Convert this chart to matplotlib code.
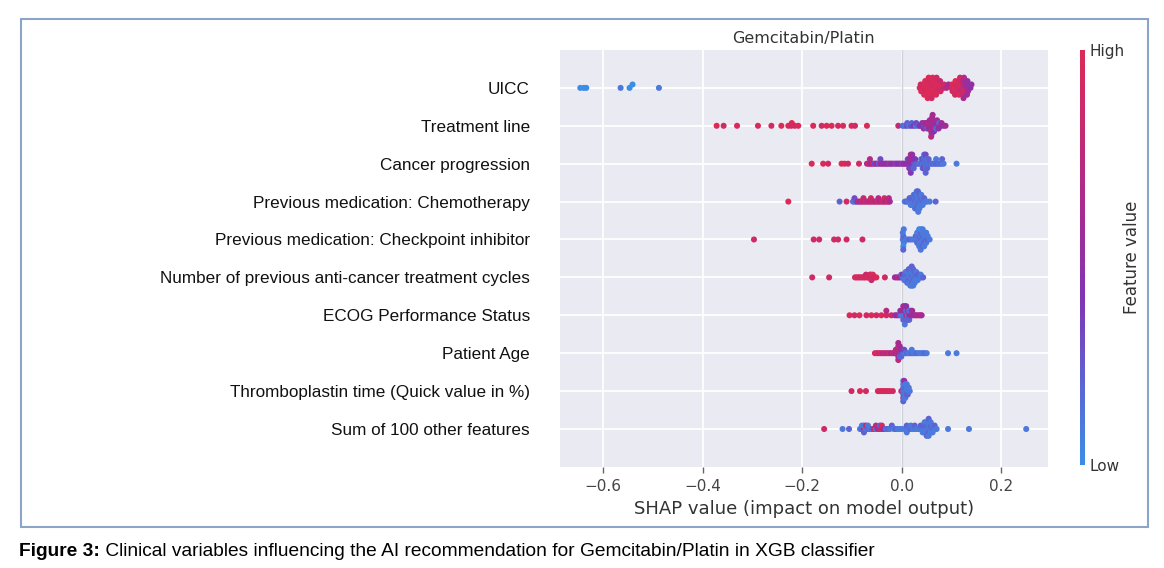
import numpy as np
import matplotlib
matplotlib.use('Agg')
import matplotlib.pyplot as plt
from matplotlib.colors import LinearSegmentedColormap, Normalize
from matplotlib.cm import ScalarMappable
from matplotlib.patches import Rectangle

features = [
    'UICC',
    'Treatment line',
    'Cancer progression',
    'Previous medication: Chemotherapy',
    'Previous medication: Checkpoint inhibitor',
    'Number of previous anti-cancer treatment cycles',
    'ECOG Performance Status',
    'Patient Age',
    'Thromboplastin time (Quick value in %)',
    'Sum of 100 other features',
]

# SHAP values, one list per row; *_feat is the feature
# value on a 0 (low) .. 10 (high) scale
uicc_shap = [-0.646, -0.639, -0.634, -0.565, -0.547, -0.541, -0.488,
             0.036, 0.038, 0.039,
             0.044, 0.045, 0.046, 0.047, 0.045,
             0.052, 0.053, 0.054, 0.055, 0.053, 0.054, 0.052,
             0.060, 0.061, 0.062, 0.063, 0.061, 0.062, 0.060,
             0.068, 0.069, 0.070, 0.068, 0.069, 0.070,
             0.076, 0.077, 0.078, 0.077,
             0.084, 0.085,
             0.090, 0.094,
             0.100, 0.101, 0.102,
             0.107, 0.108, 0.109, 0.108, 0.107,
             0.115, 0.116, 0.117, 0.116, 0.115, 0.117,
             0.123, 0.124, 0.125, 0.124, 0.123, 0.125, 0.124,
             0.131, 0.132, 0.133, 0.132, 0.131,
             0.138, 0.140]
uicc_feat = [0, 0, 0, 1, 0, 0, 1,
             10, 9, 10,
             10, 10, 9, 10, 10,
             10, 10, 10, 9, 10, 10, 10,
             10, 9, 10, 10, 10, 10, 9,
             10, 10, 9, 10, 10, 9,
             9, 10, 9, 8,
             8, 9,
             7, 6,
             9, 10, 9,
             10, 9, 10, 10, 9,
             9, 10, 8, 9, 10, 9,
             8, 7, 9, 6, 8, 7, 6,
             6, 5, 6, 5, 6,
             5, 5]

treat_shap = [-0.372, -0.358, -0.331, -0.289, -0.262, -0.242, -0.228, -0.222, -0.221, -0.215, -0.208,
              -0.178, -0.161, -0.151, -0.141, -0.128, -0.118, -0.101, -0.094, -0.070, -0.007,
              0.002, 0.006, 0.010, 0.011, 0.015, 0.019, 0.020, 0.024, 0.028, 0.029, 0.033, 0.036,
              0.040, 0.041,
              0.044, 0.045, 0.046,
              0.049, 0.050, 0.051,
              0.054, 0.055, 0.054, 0.056,
              0.059, 0.060, 0.061, 0.060, 0.059, 0.061, 0.060, 0.062, 0.059,
              0.064, 0.065, 0.066, 0.064, 0.065,
              0.069, 0.070, 0.069, 0.071,
              0.074, 0.075, 0.074,
              0.079, 0.080,
              0.084, 0.088]
treat_feat = [10, 9, 10, 10, 9, 10, 10, 9, 10, 9, 10,
              10, 9, 10, 10, 9, 10, 10, 9, 10, 8,
              2, 1, 3, 2, 1, 3, 2, 4, 1, 3, 2, 4,
              4, 5,
              6, 3, 5,
              6, 6, 2,
              6, 7, 5, 6,
              6, 7, 5, 6, 7, 6, 5, 6, 7,
              6, 5, 7, 6, 4,
              5, 6, 2, 6,
              6, 2, 5,
              5, 6,
              5, 6]

prog_shap = [-0.181, -0.158, -0.148, -0.121, -0.115, -0.108, -0.086,
             -0.070, -0.067, -0.064, -0.064, -0.061, -0.058, -0.055, -0.052, -0.049, -0.046,
             -0.043, -0.043, -0.040, -0.037, -0.034, -0.031, -0.028, -0.025, -0.022, -0.019,
             -0.015, -0.012, -0.009, -0.006, -0.003, 0.000, 0.003, 0.006, 0.009,
             0.012, 0.012, 0.015, 0.015, 0.015, 0.018, 0.018, 0.018, 0.018, 0.018,
             0.021, 0.021, 0.021, 0.021, 0.024, 0.024, 0.024, 0.027, 0.027, 0.030,
             0.033, 0.036, 0.039, 0.039, 0.042, 0.042, 0.042, 0.045, 0.045, 0.045, 0.045,
             0.048, 0.048, 0.048, 0.048, 0.048, 0.051, 0.051, 0.051, 0.054, 0.054, 0.057,
             0.060, 0.063, 0.066, 0.069, 0.069, 0.072, 0.075, 0.078, 0.081, 0.081, 0.084, 0.110]
prog_feat = [10, 10, 9, 10, 10, 9, 9,
             6, 9, 5, 7, 6, 8, 3, 6, 5, 2,
             6, 3, 5, 6, 4, 6, 5, 3, 6, 5,
             5, 3, 6, 4, 5, 3, 6, 5, 4,
             5, 3, 6, 4, 5, 5, 6, 3, 7, 4,
             4, 6, 3, 5, 3, 5, 2, 2, 4, 2,
             2, 1, 2, 1, 1, 3, 2, 2, 1, 3, 2,
             1, 2, 1, 3, 2, 2, 1, 2, 1, 2, 2,
             1, 2, 1, 2, 1, 2, 1, 2, 1, 2, 1, 1]

chemo_shap = [-0.228, -0.125, -0.111,
              -0.098, -0.095, -0.095, -0.092, -0.089, -0.086, -0.083, -0.080,
              -0.077, -0.077, -0.074, -0.071, -0.068, -0.065, -0.062, -0.062,
              -0.059, -0.056, -0.053, -0.050, -0.047, -0.047, -0.044, -0.041,
              -0.038, -0.035, -0.035, -0.032, -0.029, -0.026, -0.026, -0.024,
              0.006, 0.009, 0.012, 0.015, 0.0155, 0.018, 0.0175, 0.018,
              0.021, 0.0205, 0.021, 0.024, 0.0235, 0.024, 0.024,
              0.027, 0.0265, 0.027, 0.027, 0.0265,
              0.030, 0.0295, 0.030, 0.030, 0.0295, 0.030,
              0.033, 0.0325, 0.033, 0.0335, 0.033, 0.0325, 0.033,
              0.036, 0.0355, 0.036, 0.036, 0.0355,
              0.039, 0.0385, 0.039, 0.039, 0.042, 0.0415, 0.042,
              0.045, 0.045, 0.048, 0.051, 0.056, 0.068]
chemo_feat = [10, 2, 9,
              2, 1, 3, 2, 6, 8, 5, 9,
              6, 8, 9, 7, 9, 6, 8, 9,
              7, 9, 6, 8, 9, 7, 6, 8,
              9, 7, 9, 6, 8, 9, 7, 6,
              1, 2, 1, 1, 2, 1, 2, 1,
              1, 2, 1, 1, 2, 1, 1,
              2, 1, 1, 2, 1,
              1, 2, 1, 1, 2, 1,
              1, 1, 2, 1, 1, 2, 1,
              2, 1, 1, 2, 1,
              1, 2, 1, 1, 2, 1, 1,
              1, 2, 1, 1, 1, 2]

check_shap = [-0.297, -0.177, -0.166, -0.136, -0.128, -0.111, -0.079,
              0.002, 0.003, 0.004, 0.002, 0.003, 0.004, 0.003,
              0.008, 0.012, 0.016, 0.020, 0.024,
              0.028, 0.028, 0.031, 0.031, 0.031, 0.031,
              0.035, 0.035, 0.035, 0.035, 0.035, 0.035,
              0.038, 0.038, 0.038, 0.038, 0.038, 0.038, 0.038,
              0.042, 0.042, 0.042, 0.042, 0.042, 0.042,
              0.045, 0.045, 0.045, 0.045, 0.045,
              0.049, 0.049, 0.049, 0.049, 0.052, 0.052, 0.056]
check_feat = [9, 9, 9, 9, 9, 9, 9,
              1, 2, 1, 1, 0, 1, 2,
              1, 1, 2, 1, 1,
              1, 2, 1, 1, 2, 1,
              1, 2, 1, 0, 1, 1,
              2, 1, 1, 2, 1, 0, 1,
              1, 2, 1, 1, 2, 1,
              1, 1, 2, 1, 1,
              2, 1, 1, 1, 2, 1, 1]

cycles_shap = [-0.180, -0.146,
               -0.094, -0.091, -0.088, -0.085, -0.082, -0.079, -0.076, -0.074,
               -0.072, -0.070, -0.068, -0.066, -0.064, -0.064, -0.062, -0.062,
               -0.061, -0.060, -0.058, -0.058, -0.056, -0.054, -0.051, -0.034,
               -0.014, -0.010, -0.007, -0.004, -0.001, -0.001,
               0.002, 0.002, 0.005, 0.005, 0.005, 0.008, 0.008, 0.008, 0.008,
               0.011, 0.011, 0.011, 0.011, 0.011, 0.014, 0.014, 0.014, 0.014, 0.014, 0.014,
               0.017, 0.017, 0.017, 0.017, 0.017, 0.017, 0.017,
               0.020, 0.020, 0.020, 0.020, 0.020, 0.020, 0.020, 0.020,
               0.023, 0.023, 0.023, 0.023, 0.023, 0.023, 0.023,
               0.026, 0.026, 0.026, 0.026, 0.026, 0.029, 0.029, 0.029, 0.029,
               0.032, 0.032, 0.032, 0.035, 0.035, 0.038, 0.038, 0.041, 0.043]
cycles_feat = [9, 9,
               9, 10, 9, 10, 8, 10, 9, 9,
               8, 10, 9, 10, 8, 9, 10, 9,
               8, 10, 9, 10, 9, 8, 10, 9,
               6, 5, 7, 6, 5, 2,
               1, 5, 1, 2, 1, 1, 2, 1, 1,
               1, 2, 1, 1, 2, 1, 1, 2, 1, 1, 2,
               1, 1, 2, 1, 1, 2, 1,
               1, 2, 1, 1, 2, 1, 1, 2,
               1, 1, 2, 1, 1, 2, 1,
               2, 1, 1, 2, 1, 1, 2, 1, 1,
               1, 2, 1, 1, 2, 1, 1, 1, 2]

ecog_shap = [-0.105, -0.095, -0.085, -0.071, -0.061, -0.051, -0.041, -0.031, -0.031, -0.021,
             -0.014, -0.010, -0.006, -0.003, -0.003, 0.000, 0.000,
             0.003, 0.003, 0.003, 0.003, 0.006, 0.006, 0.006, 0.006, 0.006,
             0.009, 0.009, 0.009, 0.009, 0.012, 0.012, 0.012, 0.015, 0.015, 0.015,
             0.018, 0.018, 0.021, 0.021, 0.025, 0.028, 0.031, 0.035, 0.038, 0.040]
ecog_feat = [10, 9, 10, 9, 10, 9, 10, 9, 7, 9,
             7, 4, 6, 2, 5, 1, 6,
             1, 6, 2, 5, 1, 5, 2, 6, 1,
             6, 1, 2, 5, 1, 6, 2, 5, 1, 2,
             6, 2, 5, 6, 5, 6, 7, 6, 7, 6]

age_shap = [-0.054, -0.050, -0.046, -0.042, -0.038, -0.034, -0.030, -0.026, -0.022, -0.018,
            -0.015, -0.012, -0.012, -0.009, -0.009, -0.007, -0.007, -0.007, -0.007, -0.007, -0.007,
            -0.004, -0.004, -0.004, -0.004, -0.001, -0.001, -0.001,
            0.002, 0.002, 0.005, 0.005, 0.008, 0.011, 0.014, 0.017, 0.020, 0.020,
            0.023, 0.026, 0.030, 0.034, 0.038, 0.042, 0.046, 0.050, 0.093, 0.110]
age_feat = [9, 10, 8, 9, 7, 8, 7, 9, 6, 8,
            7, 6, 8, 7, 6, 8, 7, 6, 9, 7, 6,
            5, 7, 2, 6, 3, 5, 2,
            2, 5, 1, 3, 1, 2, 1, 1, 2, 1,
            1, 1, 2, 1, 1, 1, 2, 1, 1, 1]

thromb_shap = [-0.101, -0.084, -0.072, -0.048, -0.044, -0.040, -0.036, -0.032, -0.028, -0.024, -0.018, -0.001,
               0.003, 0.003, 0.003, 0.003, 0.003, 0.003, 0.003,
               0.005, 0.005, 0.005, 0.005, 0.005, 0.005,
               0.007, 0.007, 0.007, 0.007, 0.007,
               0.010, 0.010, 0.010, 0.010, 0.012, 0.012, 0.012, 0.014, 0.014, 0.016]
thromb_feat = [9, 10, 9, 10, 9, 10, 9, 10, 9, 10, 9, 9,
               1, 2, 1, 1, 6, 1, 2,
               1, 1, 2, 1, 1, 5,
               1, 2, 1, 1, 1,
               1, 1, 2, 1, 1, 1, 2, 1, 1, 1]

other_shap = [-0.156, -0.119, -0.106,
              -0.084, -0.080, -0.080, -0.076, -0.076, -0.076, -0.072, -0.072, -0.068, -0.068, -0.064, -0.060,
              -0.056, -0.052, -0.052, -0.048, -0.044, -0.044, -0.040, -0.040, -0.036, -0.032, -0.028, -0.024, -0.020,
              -0.016, -0.012, -0.008, -0.004, 0.000,
              0.006, 0.010, 0.010, 0.010, 0.014, 0.018, 0.018, 0.022, 0.026, 0.026, 0.030,
              0.034, 0.038, 0.038, 0.042, 0.042, 0.042, 0.046, 0.046, 0.046, 0.046,
              0.050, 0.050, 0.050, 0.050, 0.050, 0.054, 0.054, 0.054, 0.054, 0.054, 0.054,
              0.058, 0.058, 0.058, 0.058, 0.062, 0.062, 0.062, 0.066, 0.066, 0.070,
              0.093, 0.135, 0.250]
other_feat = [9, 1, 2,
              1, 2, 1, 9, 1, 2, 1, 8, 2, 1, 1, 2,
              9, 1, 8, 6, 9, 2, 8, 10, 5, 1, 2, 1, 2,
              1, 2, 1, 1, 1,
              1, 1, 2, 1, 1, 2, 1, 1, 1, 2, 1,
              1, 1, 2, 1, 2, 1, 1, 2, 1, 1,
              1, 2, 1, 1, 2, 1, 1, 2, 1, 1, 2,
              1, 2, 1, 1, 2, 1, 1, 1, 2, 1,
              1, 1, 1]

rows = [
    (uicc_shap, uicc_feat),
    (treat_shap, treat_feat),
    (prog_shap, prog_feat),
    (chemo_shap, chemo_feat),
    (check_shap, check_feat),
    (cycles_shap, cycles_feat),
    (ecog_shap, ecog_feat),
    (age_shap, age_feat),
    (thromb_shap, thromb_feat),
    (other_shap, other_feat),
]

x_ticks = [-0.6, -0.4, -0.2, 0.0, 0.2]
x_lim = (-0.687, 0.293)

cmap = LinearSegmentedColormap.from_list(
    'red_blue', ['#3b8ee6', '#5d63d2', '#8035b5', '#a52b93', '#c42a72', '#db2a57'])
norm = Normalize(vmin=0, vmax=10)


def swarm_offsets(vals, nbins=100, row_height=0.4):
    # same binning as shap's beeswarm, without the random tie break
    vals = np.asarray(vals, dtype=float)
    quant = np.round(nbins * (vals - vals.min()) / (vals.max() - vals.min() + 1e-8))
    ys = np.zeros(len(vals))
    layer, last = 0, None
    for i in np.argsort(quant, kind='stable'):
        if quant[i] != last:
            layer = 0
        ys[i] = np.ceil(layer / 2) * ((layer % 2) * 2 - 1)
        layer += 1
        last = quant[i]
    ys *= 0.9 * (row_height / np.max(ys + 1))
    return ys


fig = plt.figure(figsize=(11.64, 5.68), dpi=100)
ax = fig.add_axes([0.481, 0.178, 0.419, 0.734])
ax.set_facecolor('#eaeaf2')
for s in ax.spines.values():
    s.set_visible(False)

n = len(features)
for i, (sv, fv) in enumerate(rows):
    y = n - 1 - i
    ax.scatter(sv, y + swarm_offsets(sv), c=fv, cmap=cmap, norm=norm,
               s=19, linewidths=0, zorder=3)

ax.axvline(0, color='#d2d2da', lw=1.0, zorder=0.7)
ax.set_axisbelow(True)
ax.grid(True, color='white', lw=1.3)
ax.set_xlim(*x_lim)
ax.set_ylim(-1, n)
ax.set_xticks(x_ticks)
ax.set_xticklabels(['\u22120.6', '\u22120.4', '\u22120.2', '0.0', '0.2'])
ax.set_yticks(range(n))
ax.set_yticklabels(features[::-1], fontfamily='Liberation Sans', fontsize=12.3,
                   color='#111111', va='center_baseline')
ax.tick_params(axis='y', length=0, pad=21.6)
ax.tick_params(axis='x', length=4.5, width=1, color='#666666', labelsize=11,
               labelcolor='#444444', pad=4.5)
ax.set_xlabel('SHAP value (impact on model output)', fontsize=13, color='#333333', labelpad=4)
ax.set_title('Gemcitabin/Platin', fontsize=11.5, color='#333333', pad=5)

cax = fig.add_axes([0.9278, 0.1813, 0.0043, 0.731])
cb = fig.colorbar(ScalarMappable(norm=norm, cmap=cmap), cax=cax, ticks=[0, 10])
cb.set_ticklabels(['Low', 'High'])
cb.outline.set_visible(False)
cax.tick_params(length=0, labelsize=11, labelcolor='#333333', pad=3)
cb.set_label('Feature value', fontsize=12, color='#333333', labelpad=-1)

fig.add_artist(Rectangle((21 / 1164, 41 / 568), 1127 / 1164, 508 / 568,
                         transform=fig.transFigure, fill=False,
                         edgecolor='#8ca5c6', lw=1.5))

cap_y = 1 - 551 / 568
t1 = fig.text(19 / 1164, cap_y, 'Figure 3:', fontfamily='Liberation Sans',
              fontweight='bold', fontsize=13.8, va='center')
fig.canvas.draw()
bb = t1.get_window_extent()
fig.text(bb.x1 / fig.bbox.width, cap_y,
         ' Clinical variables influencing the AI recommendation for Gemcitabin/Platin in XGB classifier',
         fontfamily='Liberation Sans', fontsize=13.8, va='center')

fig.savefig('out.png', dpi=100)
